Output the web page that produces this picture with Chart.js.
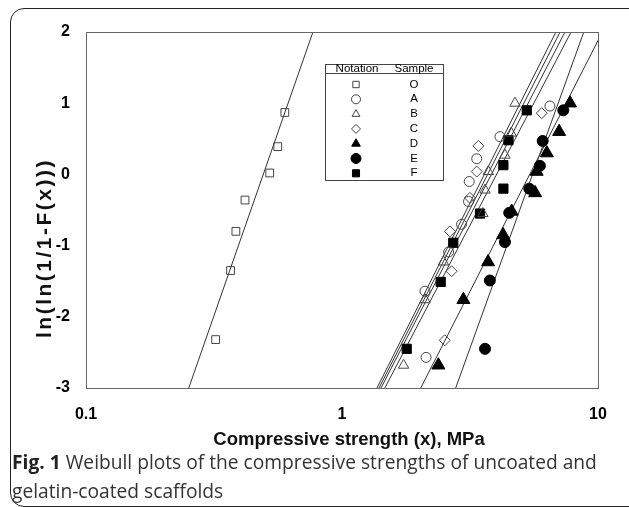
<!DOCTYPE html>
<html>
<head>
<meta charset="utf-8">
<script src="https://cdn.jsdelivr.net/npm/chart.js@4.4.1/dist/chart.umd.min.js"></script>
<style>
body { margin: 0; background: #fff; width: 629px; height: 507px; overflow: hidden; position: relative; }
#frame { position: absolute; left: 10px; top: 8px; width: 660px; height: 497px; border: 1.5px solid #222; border-radius: 14px; }
#wrap { position: absolute; left: 0; top: 0; width: 629px; height: 460px; }
#caption { position: absolute; left: 12px; top: 447px; font-family: "Open Sans", sans-serif; font-size: 19.2px; line-height: 29px; color: #333; white-space: nowrap; }
#caption b { font-weight: 700; color: #222; }
</style>
</head>
<body>
<div id="frame"></div>
<div id="wrap"><canvas id="weibullChart"></canvas></div>
<div id="caption"><b>Fig. 1</b> Weibull plots of the compressive strengths of uncoated and<br>gelatin-coated scaffolds</div>
<script>
// samples as in the legend
var sampleNames = ['O', 'A', 'B', 'C', 'D', 'E', 'F'];

// compressive strength (MPa) and ln(ln(1/(1-F)))
var xO = [0.321, 0.367, 0.385, 0.418, 0.522, 0.561, 0.598];
var yO = [-2.32, -1.35, -0.80, -0.36, 0.02, 0.39, 0.87];
var xA = [2.13, 2.11, 2.61, 2.93, 3.12, 3.14, 3.36, 4.14, 6.49];
var yA = [-2.57, -1.64, -1.09, -0.70, -0.38, -0.10, 0.22, 0.53, 0.96];
var xB = [1.74, 2.11, 2.49, 3.55, 3.62, 3.73, 4.33, 4.58, 4.74];
var yB = [-2.68, -1.76, -1.23, -0.55, -0.22, 0.04, 0.27, 0.58, 1.00];
var xC = [2.52, 2.68, 2.64, 3.16, 3.36, 3.41, 6.03];
var yC = [-2.33, -1.36, -0.80, -0.33, 0.04, 0.40, 0.86];
var xD = [2.38, 2.98, 3.72, 4.26, 4.60, 5.68, 5.76, 6.31, 7.05, 7.78];
var yD = [-2.68, -1.76, -1.23, -0.85, -0.52, -0.26, 0.04, 0.30, 0.60, 1.00];
var xE = [3.62, 3.78, 4.33, 4.50, 5.39, 5.93, 6.08, 7.32];
var yE = [-2.45, -1.49, -0.95, -0.54, -0.20, 0.12, 0.47, 0.90];
var xF = [1.79, 2.43, 2.72, 3.46, 4.27, 4.27, 4.47, 5.27];
var yF = [-2.45, -1.51, -0.96, -0.55, -0.20, 0.13, 0.48, 0.90];

// fitted lines: strength where each line crosses y = -3 and y = 2
var fitLowY = -3, fitHighY = 2;
var fitLowX = [0.252, 1.395, 1.37, 1.42, 2.03, 2.78, 1.47];
var fitHighX = [0.770, 7.11, 6.85, 7.43, 10.4, 8.8, 7.85];

var xTicks = [0.1, 1, 10];
var yTicks = [-3, -2, -1, 0, 1, 2];

var xs = [xO, xA, xB, xC, xD, xE, xF];
var ys = [yO, yA, yB, yC, yD, yE, yF];

// marker look for each sample
var markerStyle = ['rect', 'circle', 'triangle', 'rectRot', 'triangle', 'circle', 'rect'];
var markerFilled = [false, false, false, false, true, true, true];
var markerRadius = [5.5, 5, 6, 5.5, 7.5, 5.5, 6.5];

var fontFam = '"Liberation Sans", Arial, sans-serif';

function pairUp(xv, yv) {
    return xv.map(function(x, i) { return {x: x, y: yv[i]}; });
}

var datasets = [];
sampleNames.forEach(function(name, i) {
    datasets.push({
        type: 'scatter',
        label: name,
        data: pairUp(xs[i], ys[i]),
        pointStyle: markerStyle[i],
        pointRadius: markerRadius[i],
        pointHoverRadius: markerRadius[i],
        pointBackgroundColor: markerFilled[i] ? '#000' : 'rgba(255,255,255,0)',
        pointBorderColor: markerFilled[i] ? '#000' : '#444',
        pointBorderWidth: 1,
        order: 1
    });
    datasets.push({
        type: 'line',
        label: name + ' fit',
        data: [{x: fitLowX[i], y: fitLowY}, {x: fitHighX[i], y: fitHighY}],
        borderColor: '#333',
        borderWidth: 1,
        pointRadius: 0,
        fill: false,
        order: 2
    });
});

// frame round the plot, axis titles and the notation box
var extrasPlugin = {
    id: 'extras',
    afterDraw: function(chart) {
        var ctx = chart.ctx;
        var a = chart.chartArea;
        ctx.save();
        ctx.strokeStyle = '#666';
        ctx.lineWidth = 1;
        ctx.strokeRect(a.left + 0.5, a.top + 0.5, a.right - a.left, a.bottom - a.top);

        ctx.fillStyle = '#111';
        ctx.font = 'bold 18.5px ' + fontFam;
        ctx.textAlign = 'center';
        ctx.textBaseline = 'middle';
        ctx.fillText('Compressive strength (x), MPa', 349, 440);

        ctx.save();
        ctx.translate(45, 249);
        ctx.rotate(-Math.PI / 2);
        ctx.font = 'bold 21px ' + fontFam;
        ctx.letterSpacing = '2.5px';
        ctx.fillText('ln(ln(1/1-F(x)))', 1, 0);
        ctx.restore();

        // notation box
        var bx = 325, by = 64, bw = 118, bh = 116;
        ctx.fillStyle = '#fff';
        ctx.fillRect(bx, by, bw, bh);
        ctx.strokeStyle = '#444';
        ctx.strokeRect(bx + 0.5, by + 0.5, bw, bh);
        ctx.beginPath();
        ctx.moveTo(bx, 73.5);
        ctx.lineTo(bx + bw, 73.5);
        ctx.stroke();
        ctx.fillStyle = '#000';
        ctx.font = '11.5px ' + fontFam;
        ctx.fillText('Notation', 357, 69);
        ctx.fillText('Sample', 414, 69);
        sampleNames.forEach(function(name, i) {
            var ry = 84.5 + i * 14.8;
            ctx.fillStyle = '#000';
            ctx.font = '11.5px ' + fontFam;
            ctx.fillText(name, 414, ry);
            ctx.fillStyle = markerFilled[i] ? '#000' : '#fff';
            ctx.strokeStyle = markerFilled[i] ? '#000' : '#444';
            ctx.lineWidth = 1;
            Chart.helpers.drawPoint(ctx, {
                pointStyle: markerStyle[i],
                radius: markerFilled[i] ? 5 : 4.5,
                rotation: 0,
                borderWidth: 1
            }, 356, ry);
        });
        ctx.restore();
    }
};

var weibullChart = new Chart(document.getElementById('weibullChart'), {
    type: 'scatter',
    data: { datasets: datasets },
    options: {
        responsive: true,
        maintainAspectRatio: false,
        animation: false,
        layout: { padding: { left: 0, top: 32, right: 31, bottom: 0 } },
        plugins: {
            legend: { display: false },
            tooltip: { enabled: false }
        },
        scales: {
            x: {
                type: 'logarithmic',
                min: 0.1,
                max: 10,
                grid: { display: false },
                border: { display: false },
                afterBuildTicks: function(scale) {
                    scale.ticks = xTicks.map(function(v) { return {value: v}; });
                },
                afterFit: function(scale) { scale.height = 72; },
                ticks: {
                    padding: 9,
                    color: '#000',
                    maxRotation: 0,
                    autoSkip: false,
                    font: { family: fontFam, size: 16, weight: 'bold' },
                    callback: function(v) { return String(v); }
                }
            },
            y: {
                min: -3,
                max: 2,
                grid: { display: false },
                border: { display: false },
                afterBuildTicks: function(scale) {
                    scale.ticks = yTicks.map(function(v) { return {value: v}; });
                },
                afterFit: function(scale) { scale.width = 86; },
                ticks: {
                    padding: 8,
                    color: '#000',
                    font: { family: fontFam, size: 16, weight: 'bold' }
                }
            }
        }
    },
    plugins: [extrasPlugin]
});
</script>
</body>
</html>
